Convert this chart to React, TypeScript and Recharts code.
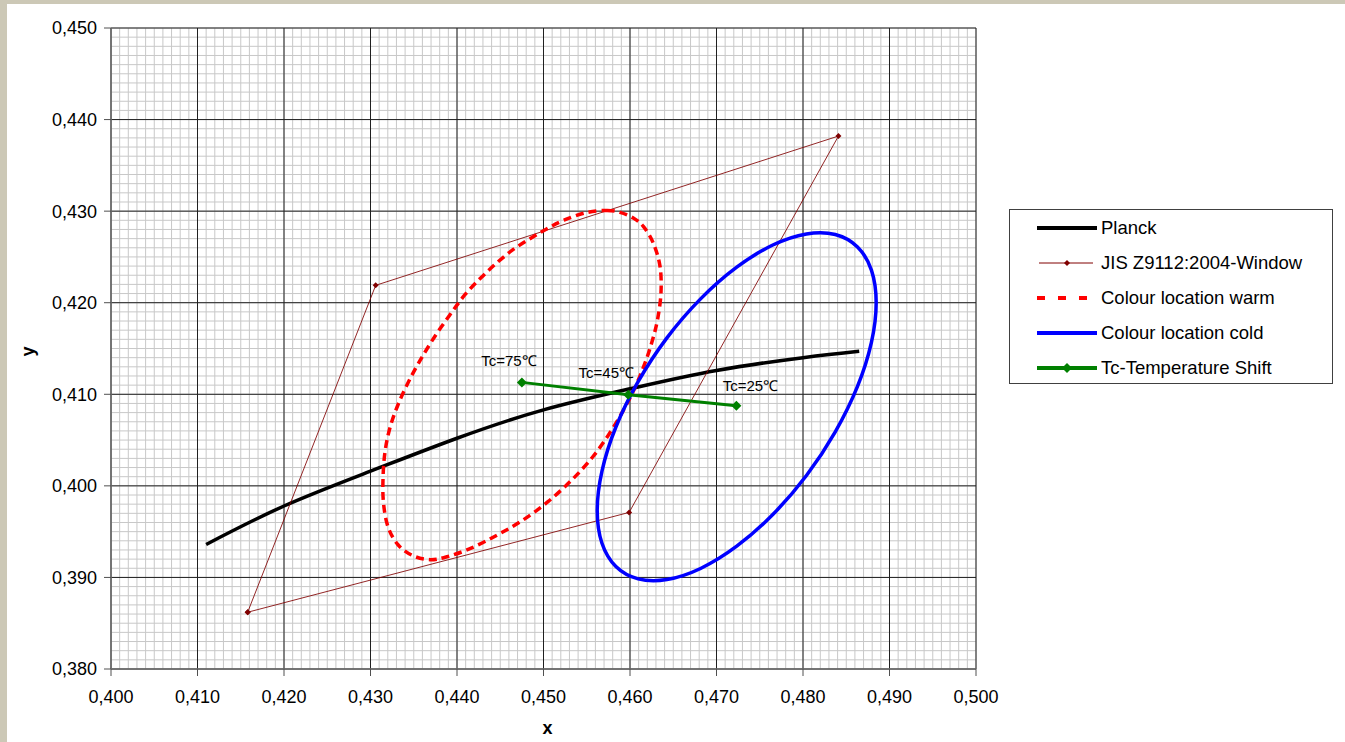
import React from 'react';
import { ComposedChart, Line, XAxis, YAxis, CartesianGrid, Legend } from 'recharts';

// ---- data ----
const planckX = [0.411, 0.42, 0.43, 0.44, 0.45, 0.46, 0.47, 0.48, 0.4865];
const planckY = [0.3936, 0.3978, 0.4016, 0.4052, 0.4083, 0.4106, 0.4126, 0.414, 0.4147];

const jisX = [0.4158, 0.4306, 0.4841, 0.4599, 0.4158];
const jisY = [0.3862, 0.4219, 0.4382, 0.3971, 0.3862];

const warmX = [0.45731, 0.45884, 0.46038, 0.46154, 0.46269, 0.46347, 0.46358, 0.46318, 0.46251, 0.46162, 0.46046, 0.45908, 0.45746, 0.45561, 0.4533, 0.45052, 0.44751, 0.44451, 0.4415, 0.43884, 0.43688, 0.43491, 0.43318, 0.43202, 0.4315, 0.43145, 0.43168, 0.43225, 0.43318, 0.43434, 0.43572, 0.43734, 0.43919, 0.44092, 0.44277, 0.44462, 0.44647, 0.44844, 0.4504, 0.45237, 0.45491];
const warmY = [0.43008, 0.42986, 0.42925, 0.42833, 0.42652, 0.42397, 0.42106, 0.41814, 0.41563, 0.41312, 0.4105, 0.40799, 0.40548, 0.40307, 0.40067, 0.39827, 0.39619, 0.39456, 0.39314, 0.39226, 0.39194, 0.39237, 0.39357, 0.39554, 0.39816, 0.40089, 0.40373, 0.40635, 0.40886, 0.41126, 0.41367, 0.41618, 0.41869, 0.42087, 0.42273, 0.42437, 0.42579, 0.42699, 0.42808, 0.42901, 0.42983];

const coldX = [0.48846, 0.48791, 0.4863, 0.48373, 0.4804, 0.47651, 0.47234, 0.46816, 0.46427, 0.46094, 0.45837, 0.45676, 0.45621, 0.45676, 0.45837, 0.46094, 0.46427, 0.46816, 0.47234, 0.47651, 0.4804, 0.48373, 0.4863, 0.48791];
const coldY = [0.42, 0.42356, 0.42609, 0.42745, 0.42751, 0.4263, 0.42388, 0.42042, 0.41616, 0.41138, 0.40643, 0.40162, 0.39729, 0.39373, 0.39119, 0.38984, 0.38977, 0.39098, 0.39341, 0.39687, 0.40113, 0.4059, 0.41086, 0.41567];

const tcX = [0.4475, 0.4598, 0.4723];
const tcY = [0.4113, 0.40996, 0.40875];
const tcLabels = ['Tc=75℃', 'Tc=45℃', 'Tc=25℃'];

const xMajorTicks = [0.4, 0.41, 0.42, 0.43, 0.44, 0.45, 0.46, 0.47, 0.48, 0.49, 0.5];
const yMajorTicks = [0.38, 0.39, 0.4, 0.41, 0.42, 0.43, 0.44, 0.45];
const xMinorTicks = Array.from({ length: 101 }, (_, i) => (400 + i) / 1000);
const yMinorTicks = Array.from({ length: 71 }, (_, i) => (380 + i) / 1000);

const seriesNames = ['Planck', 'JIS Z9112:2004-Window', 'Colour location warm', 'Colour location cold', 'Tc-Temperature Shift'];

const pts = (xs: number[], ys: number[]) => xs.map((x, i) => ({ x, y: ys[i] }));
const planckData = pts(planckX, planckY);
const jisData = pts(jisX, jisY);
const warmData = pts(warmX, warmY);
const coldData = pts(coldX, coldY);
const tcData = tcX.map((x, i) => ({ x, y: tcY[i], label: tcLabels[i] }));

// ---- styles ----
const FONT = '"Liberation Sans", Arial, sans-serif';
const fmt = (v: number) => v.toFixed(3).replace('.', ',');
const tcLabelOffsets = [[-13, -22], [-22, -22], [14, -20]];

// closed Catmull-Rom curve factory (d3 curve protocol)
const closedSmooth: any = (context: any) => {
  let p: number[][] = [];
  return {
    areaStart() {},
    areaEnd() {},
    lineStart() { p = []; },
    point(x: number, y: number) { p.push([+x, +y]); },
    lineEnd() {
      const n = p.length;
      if (n < 3) return;
      context.moveTo(p[0][0], p[0][1]);
      for (let i = 0; i < n; i++) {
        const p0 = p[(i - 1 + n) % n], p1 = p[i], p2 = p[(i + 1) % n], p3 = p[(i + 2) % n];
        context.bezierCurveTo(
          p1[0] + (p2[0] - p0[0]) / 6, p1[1] + (p2[1] - p0[1]) / 6,
          p2[0] - (p3[0] - p1[0]) / 6, p2[1] - (p3[1] - p1[1]) / 6,
          p2[0], p2[1]
        );
      }
      context.closePath();
    },
  };
};

const JisDot = (props: any) => {
  const { cx, cy, index } = props;
  const r = 3;
  return <path key={`j${index}`} d={`M${cx},${cy - r}L${cx + r},${cy}L${cx},${cy + r}L${cx - r},${cy}Z`} fill="#800000" />;
};
const TcDot = (props: any) => {
  const { cx, cy, index, payload } = props;
  const r = 5;
  const off = tcLabelOffsets[index] || [0, -20];
  return (
    <g key={`t${index}`}>
      <path d={`M${cx},${cy - r}L${cx + r},${cy}L${cx},${cy + r}L${cx - r},${cy}Z`} fill="#008000" />
      <text x={cx + off[0]} y={cy + off[1]} textAnchor="middle" dominantBaseline="central" fontSize={15} fontFamily={FONT} fill="#000">
        {payload.label}
      </text>
    </g>
  );
};

const legendSample = (name: string) => {
  switch (name) {
    case 'Planck':
      return <line x1={0} y1={6} x2={60} y2={6} stroke="#000" strokeWidth={4} />;
    case 'JIS Z9112:2004-Window':
      return (
        <g>
          <line x1={2} y1={6} x2={56} y2={6} stroke="#800000" strokeWidth={1} />
          <path d="M30,3L33,6L30,9L27,6Z" fill="#800000" />
        </g>
      );
    case 'Colour location warm':
      return <line x1={0} y1={6} x2={60} y2={6} stroke="#ff0000" strokeWidth={4} strokeDasharray="8 13" />;
    case 'Colour location cold':
      return <line x1={0} y1={6} x2={60} y2={6} stroke="#0000ff" strokeWidth={4} />;
    default:
      return (
        <g>
          <line x1={0} y1={6} x2={60} y2={6} stroke="#008000" strokeWidth={4} />
          <path d="M30,1L35,6L30,11L25,6Z" fill="#008000" />
        </g>
      );
  }
};

const LegendBox = () => (
  <div style={{ width: 324, height: 175, boxSizing: 'border-box', border: '1px solid #404040', background: '#fff', fontFamily: FONT, fontSize: 18.5, color: '#000' }}>
    {seriesNames.map((n: string) => (
      <div key={n} style={{ height: 35.2, display: 'flex', alignItems: 'center', whiteSpace: 'nowrap' }}>
        <svg width={62} height={12} style={{ marginLeft: 27, display: 'block' }}>{legendSample(n)}</svg>
        <span style={{ marginLeft: 2, lineHeight: '20px' }}>{n}</span>
      </div>
    ))}
  </div>
);

const tickStyle = { fontSize: 18, fill: '#000', fontFamily: FONT };

export default function App() {
  return (
    <div style={{ position: 'absolute', left: 0, top: 0, width: 1345, height: 742, background: '#ccc8b6', overflow: 'hidden' }}>
      <div style={{ position: 'absolute', left: 7, top: 4, right: 0, bottom: 0, background: '#fff' }} />
      <div style={{ position: 'absolute', left: 0, top: 0 }}>
        <ComposedChart width={1345} height={742} margin={{ top: 28, right: 369, bottom: 5, left: 21 }}>
          <XAxis xAxisId="minor" dataKey="x" type="number" domain={[0.4, 0.5]} ticks={xMinorTicks} interval={0} allowDataOverflow hide />
          <YAxis yAxisId="minor" type="number" domain={[0.38, 0.45]} ticks={yMinorTicks} interval={0} allowDataOverflow hide />
          <CartesianGrid xAxisId="minor" yAxisId="minor" stroke="#c8c8c8" strokeWidth={1} />
          <CartesianGrid stroke="#202020" strokeWidth={1} />
          <XAxis
            dataKey="x"
            type="number"
            domain={[0.4, 0.5]}
            ticks={xMajorTicks}
            allowDataOverflow
            allowDuplicatedCategory
            interval={0}
            tickFormatter={fmt}
            tick={tickStyle}
            tickSize={7}
            tickMargin={14}
            height={68}
            axisLine={{ stroke: '#707070', strokeWidth: 1.5 }}
            tickLine={{ stroke: '#505050', strokeWidth: 1 }}
            label={{
              content: (p: any) => {
                const vb = p.viewBox || {};
                return (
                  <text x={vb.x + vb.width / 2 + 4} y={vb.y + 59} textAnchor="middle" dominantBaseline="central" fontWeight="bold" fontSize={18} fontFamily={FONT} fill="#000">x</text>
                );
              },
            }}
          />
          <YAxis
            type="number"
            domain={[0.38, 0.45]}
            ticks={yMajorTicks}
            allowDataOverflow
            interval={0}
            tickFormatter={fmt}
            tick={tickStyle}
            tickSize={7}
            tickMargin={7}
            width={90}
            axisLine={{ stroke: '#707070', strokeWidth: 1.5 }}
            tickLine={{ stroke: '#505050', strokeWidth: 1 }}
            label={{
              content: (p: any) => {
                const vb = p.viewBox || {};
                const cx = vb.x + 7;
                const cy = vb.y + vb.height / 2 + 3;
                return (
                  <text x={cx} y={cy} transform={`rotate(-90 ${cx} ${cy})`} textAnchor="middle" dominantBaseline="central" fontWeight="bold" fontSize={18} fontFamily={FONT} fill="#000">y</text>
                );
              },
            }}
          />
          <Line name={seriesNames[0]} data={planckData} dataKey="y" type="natural" stroke="#000" strokeWidth={3.5} dot={false} activeDot={false} isAnimationActive={false} />
          <Line name={seriesNames[1]} data={jisData} dataKey="y" type="linear" stroke="#800000" strokeOpacity={0.85} strokeWidth={1} dot={JisDot} activeDot={false} isAnimationActive={false} />
          <Line name={seriesNames[2]} data={warmData} dataKey="y" type={closedSmooth} stroke="#ff0000" strokeWidth={3.5} strokeDasharray="8 5" dot={false} activeDot={false} isAnimationActive={false} />
          <Line name={seriesNames[3]} data={coldData} dataKey="y" type={closedSmooth} stroke="#0000ff" strokeWidth={3.5} dot={false} activeDot={false} isAnimationActive={false} />
          <Line name={seriesNames[4]} data={tcData} dataKey="y" type="linear" stroke="#008000" strokeWidth={3} dot={TcDot} activeDot={false} isAnimationActive={false} />
          <Legend
            layout="vertical"
            align="center"
            verticalAlign="middle"
            width={324}
            content={LegendBox}
            wrapperStyle={{ left: 1009, top: 209, width: 324, height: 175 }}
          />
        </ComposedChart>
      </div>
    </div>
  );
}
